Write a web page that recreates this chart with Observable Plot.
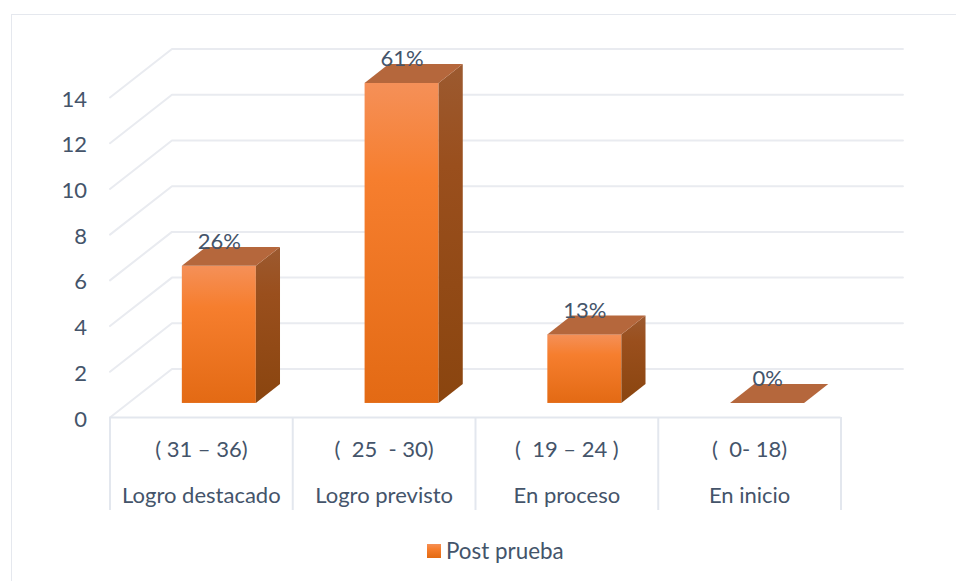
<!DOCTYPE html>
<html><head><meta charset="utf-8">
<script src="https://cdn.jsdelivr.net/npm/d3@7"></script>
<script src="https://cdn.jsdelivr.net/npm/@observablehq/plot@0.6"></script>
<style>
html,body{margin:0;padding:0;background:#fff;overflow:hidden}
#frame{position:absolute;left:11px;top:14px;width:954px;height:600px;border:1.5px solid #e5e8ee;box-sizing:border-box}
#chart{position:absolute;left:0;top:0}
#chart svg{background:transparent;overflow:visible}
#legend{position:absolute;left:427px;top:537px;display:flex;align-items:center;font:22.4px Lato,sans-serif;color:#44546a;white-space:nowrap}
#legend i{display:inline-block;width:14px;height:14px;margin-right:5px;background:linear-gradient(#f58f55,#f67e2e 35%,#e36a12)}
</style></head><body>
<div id="frame"></div>
<div id="chart"></div>
<div id="legend"><i></i><span>Post prueba</span></div>
<script>
const ranges=["( 31 – 36)","(  25  - 30)","(  19 – 24 )","(  0- 18)"];
const levels=["Logro destacado","Logro previsto","En proceso","En inicio"];
const values=[6,14,3,0];
const percents=["26%","61%","13%","0%"];
const yTicks=[0,2,4,6,8,10,12,14];
const ink="#44546a", gridColor="#e9ebf0", sepColor="#e3e7ee";

// oblique projection, in data units of the x and y scales
const depthX=0.339, depthY=2.12;
const barZ0=0.29, barZ1=0.68, barWidth=0.405;
const px=(i,z)=>i+depthX*z, py=(v,z)=>v+depthY*z;

const bars=values.map((v,i)=>({i,v,left:i+0.5-barWidth/2}));
const grid=yTicks.flatMap(t=>[
  {t,x:px(0,0),y:py(t,0)},{t,x:px(0,1),y:py(t,1)},{t,x:px(4,1),y:py(t,1)}
]);
const sidePts=bars.flatMap(d=>[
  {i:d.i,x:px(d.left+barWidth,barZ0),y1:py(0,barZ0),y2:py(d.v,barZ0)},
  {i:d.i,x:px(d.left+barWidth,barZ1),y1:py(0,barZ1),y2:py(d.v,barZ1)}
]);
const topPts=bars.flatMap(d=>[
  {i:d.i,y:py(d.v,barZ0),x1:px(d.left,barZ0),x2:px(d.left+barWidth,barZ0)},
  {i:d.i,y:py(d.v,barZ1),x1:px(d.left,barZ1),x2:px(d.left+barWidth,barZ1)}
]);

const defs=()=>{
  const d=d3.create("svg:defs");
  const grad=(id,stops)=>{
    const g=d.append("linearGradient").attr("id",id).attr("x1",0).attr("y1",0).attr("x2",0).attr("y2",1);
    stops.forEach(([o,c])=>g.append("stop").attr("offset",o).attr("stop-color",c));
  };
  grad("front",[[0,"#f59058"],[0.3,"#f67e2e"],[1,"#e36a14"]]);
  grad("side",[[0,"#9c5a30"],[0.3,"#9a4f1d"],[1,"#8a450f"]]);
  return d.node();
};

const plot=Plot.plot({
  width:956,height:530,
  marginLeft:0,marginRight:0,marginTop:0,marginBottom:0,
  style:{fontFamily:"Lato,sans-serif",background:"transparent",color:ink},
  x:{domain:[0,4],range:[109.5,840.5],axis:null},
  y:{domain:[0,14],range:[417,97],axis:null},
  marks:[
    defs,
    Plot.line(grid,{x:"x",y:"y",z:"t",stroke:gridColor,strokeWidth:2}),
    Plot.ruleY([0],{x1:0,x2:4,stroke:sepColor,strokeWidth:2}),
    Plot.ruleX([0,1,2,3,4],{y1:0,y2:-4.07,stroke:sepColor,strokeWidth:2}),
    Plot.text(yTicks,{x:0,y:d=>d,text:d=>String(d),dx:-23,dy:2,textAnchor:"end",fontSize:22,fill:ink}),
    Plot.rect(bars,{x1:d=>px(d.left,barZ0),x2:d=>px(d.left+barWidth,barZ0),y1:()=>py(0,barZ0),y2:d=>py(d.v,barZ0),fill:"url(#front)"}),
    Plot.area(sidePts,{x1:"x",y1:"y1",y2:"y2",z:"i",fill:"url(#side)"}),
    Plot.area(topPts,{x1:"x1",x2:"x2",y1:"y",z:"i",fill:"#b5673c"}),
    Plot.text(bars,{x:d=>px(d.left+barWidth/2,barZ0),y:d=>py(d.v,barZ0),text:(d,i)=>percents[i],dy:-24,fontSize:22,fill:ink}),
    Plot.text(ranges,{x:(d,i)=>i+0.5,y:()=>0,text:d=>d,dy:32,fontSize:22,fill:ink,style:{whiteSpace:"pre"}}),
    Plot.text(levels,{x:(d,i)=>i+0.5,y:()=>0,text:d=>d,dy:78,fontSize:22,fill:ink})
  ]
});
document.getElementById("chart").append(plot);
</script>
</body></html>
